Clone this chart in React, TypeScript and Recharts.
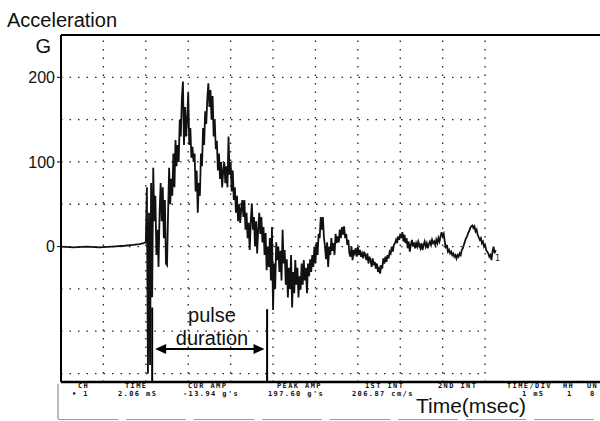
import { LineChart, Line, XAxis, YAxis, ReferenceLine } from 'recharts';

// pre-trigger baseline, ms / G
const baselineTimes = [0, 0.3, 0.6, 0.9, 1.2, 1.5, 1.7, 1.85, 1.95];
const baselineG = [0, -1, 0, -1, 0, 1, 2, 3, 4];

// pulse trace, one sample every 0.025 ms from 2.0 ms
const pulseStart = 2.0;
const sampleStep = 0.025;
const pulseG = [
  5, 70, -150, 40, -140, 75, -60, 93, 30, 60, -10, 20, -24, 40, 75, 30, 70, 10, 55, -20,
  -22, 40, 93, 50, 80, 60, 110, 70, 126, 95, 120, 100, 150, 130, 175, 195, 120, 165, 130, 150,
  182, 120, 140, 105, 118, 100, 110, 65, 90, 40, 75, 60, 110, 95, 140, 120, 160, 145, 175, 193,
  165, 185, 150, 178, 130, 150, 115, 125, 90, 110, 80, 100, 70, 90, 100, 75, 95, 70, 130, 85,
  100, 65, 90, 55, 70, 40, 60, 30, 50, 28, 45, 55, 35, 55, 20, 40, 10, 28, -4, 30,
  51, 20, 35, 0, 30, -8, 20, 40, 15, 35, 5, 23, -10, 16, -28, 0, -24, 10, -40, 23,
  -75, -20, -50, 5, -16, 0, -30, -5, -40, 20, -20, -4, -45, -15, -60, -25, -50, -10, -72, -30,
  -55, -16, -45, -25, -60, -35, -51, -20, -45, -16, -40, -25, -55, -20, -35, -15, -30, -10, -24, 0,
  -20, 5, -10, 15, 10, 35, 20, 35, 11, 0, -15, 5, -24, 0, -10, 10, -5, 4, -10, 15,
  4, 12, 5, 20, 10, 23, 14, 24, 10, 15, 2, 8, -8, -12, 0, -16, -4, -8, -2, -12,
  0, -10, -4, -12, -8, -14, -6, -10, -16, -8, -20, -12, -16, -24, -14, -22, -18, -26, -20, -30,
  -26, -32, -22, -26, -14, -20, -12, -18, -10, -14, -6, -8, 0, -6, 2, 4, 8, 4, 12, 8,
  15, 10, 17, 6, 14, 4, 10, -2, 6, -6, 2, 8, 0, 5, -2, 4, 0, 6, 2, -2,
  4, -4, 2, 6, 0, 4, -2, 3, 6, 2, 8, 4, 6, 2, 8, 4, 10, 6, 12, 17,
  12, 15, 6, -2, 2, -6, -4, -8, -6, -10, -8, -12, -10, -14, -10, -12, -8, -10, -4, -2,
  2, 6, 10, 12, 16, 18, 22, 24, 25, 22, 24, 18, 20, 14, 11, 8, 10, 4, 6, 0,
  2, -4, -6, -8, -12, -10, -16, -6, 0, -8, -4,
];

const gridTimes = [1, 2, 3, 4, 5, 6, 7, 8, 9, 10];
const gridG = [200, 150, 100, 50, 0, -50, -100, -150];
const yTickValues = [200, 100, 0];

// pulse duration markers (ms) and the G level they start from
const pulseMarkers = [
  { t: 2.15, g: -72 },
  { t: 4.86, g: -74 },
];

const readoutLabels = ['CH', 'TIME', 'CUR AMP', 'PEAK AMP', '1ST INT', '2ND INT', 'TIME/DIV', 'HH', 'UN'];
const readoutLabelX = [78, 125, 188, 277, 365, 438, 507, 563, 587];
const readoutValues = ['• 1', '2.06 mS', "-13.94 g's", "197.60 g's", '206.87 cm/s', '1 mS', '1', '8'];
const readoutValueX = [72, 118, 183, 268, 352, 522, 567, 590];

const data = [
  ...baselineTimes.map((t, i) => ({ t, g: baselineG[i] })),
  ...pulseG.map((g, i) => ({ t: pulseStart + i * sampleStep, g })),
];

const sans = '"Liberation Sans", Arial, Helvetica, sans-serif';
const mono = '"DejaVu Sans Mono", "Liberation Mono", monospace';
const dots = '1.5 7';

const ArrowShape = (p: any) => {
  const { x1, y1, x2, y2 } = p;
  return (
    <g>
      <line x1={x1 + 4} y1={y1} x2={x2 - 4} y2={y2} stroke="#000" strokeWidth={2.2} />
      <path d={`M${x1},${y1} L${x1 + 11},${y1 - 5} L${x1 + 11},${y1 + 5} Z`} fill="#000" />
      <path d={`M${x2},${y2} L${x2 - 11},${y2 - 5} L${x2 - 11},${y2 + 5} Z`} fill="#000" />
    </g>
  );
};

export default function App() {
  return (
    <div style={{ position: 'absolute', left: 0, top: 0, width: 600, height: 421, background: '#fff' }}>
      <LineChart width={600} height={421} data={data} margin={{ top: 35, right: 0, bottom: 39, left: 11 }}>
        <XAxis type="number" dataKey="t" domain={[0, 12.71]} hide />
        <YAxis
          type="number"
          domain={[-160, 250]}
          ticks={yTickValues}
          width={50}
          axisLine={{ stroke: '#000', strokeWidth: 2 }}
          tickLine={{ stroke: '#000' }}
          tickSize={4}
          tickMargin={2}
          tick={{ fill: '#111', fontSize: 16, fontFamily: sans }}
        />
        {gridG.map((g) => (
          <ReferenceLine
            key={'h' + g}
            segment={[{ x: 0, y: g }, { x: 10, y: g }]}
            stroke="#222"
            strokeWidth={1.3}
            strokeDasharray={dots}
          />
        ))}
        {gridTimes.map((t) => (
          <ReferenceLine
            key={'v' + t}
            segment={[{ x: t, y: -160 }, { x: t, y: 250 }]}
            stroke="#222"
            strokeWidth={1.3}
            strokeDasharray={dots}
          />
        ))}
        <ReferenceLine y={250} stroke="#000" strokeWidth={2} />
        <ReferenceLine y={-160} stroke="#000" strokeWidth={2.5} />
        {pulseMarkers.map((m) => (
          <ReferenceLine
            key={'m' + m.t}
            segment={[{ x: m.t, y: m.g }, { x: m.t, y: -160 }]}
            stroke="#000"
            strokeWidth={2}
          />
        ))}
        <ReferenceLine
          segment={[{ x: 2.22, y: -121 }, { x: 4.8, y: -121 }]}
          shape={ArrowShape}
        />
        <Line
          type="linear"
          dataKey="g"
          stroke="#111"
          strokeWidth={1.8}
          dot={false}
          isAnimationActive={false}
        />
      </LineChart>
      <svg
        width={600}
        height={421}
        style={{ position: 'absolute', left: 0, top: 0, pointerEvents: 'none' }}
      >
        <text x={7} y={27} fontSize={20} fontFamily={sans} fill="#111">Acceleration</text>
        <text x={51} y={53} fontSize={20} fontFamily={sans} fill="#111" textAnchor="end">G</text>
        <text x={212} y={322} fontSize={20} fontFamily={sans} fill="#111" textAnchor="middle">pulse</text>
        <text x={212} y={345} fontSize={20} fontFamily={sans} fill="#111" textAnchor="middle">duration</text>
        <text x={495} y={261} fontSize={8} fontFamily={mono} fill="#111">1</text>
        {readoutLabels.map((s, i) => (
          <text key={s} x={readoutLabelX[i]} y={388} fontSize={7} fontWeight="bold" fontFamily={mono} letterSpacing={1.4} fill="#111">{s}</text>
        ))}
        {readoutValues.map((s, i) => (
          <text key={s + i} x={readoutValueX[i]} y={396} fontSize={7} fontWeight="bold" fontFamily={mono} letterSpacing={1.4} fill="#111">{s}</text>
        ))}
        <text x={471} y={413} fontSize={21} fontFamily={sans} fill="#111" textAnchor="middle">Time(msec)</text>
        <line x1={58} y1={384} x2={58} y2={419} stroke="#777" strokeWidth={1} />
        <line x1={58} y1={419.5} x2={600} y2={419.5} stroke="#999" strokeWidth={1} strokeDasharray="60 8" />
      </svg>
    </div>
  );
}
